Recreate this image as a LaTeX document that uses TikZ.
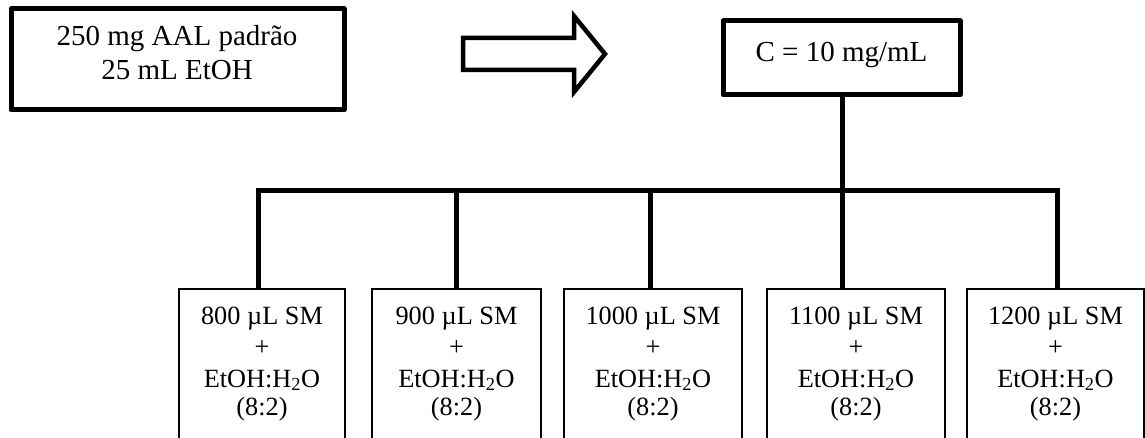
\documentclass[tikz,border=0pt]{standalone}
\usepackage{fontspec}
\setmainfont{Liberation Serif}
\tikzset{
  heavybox/.style={draw, line width=5pt, line join=round, inner sep=0pt},
  samplebox/.style={draw, line width=1.1pt, inner sep=0pt, minimum height=161pt},
  link/.style={line width=5pt, line join=miter},
  blockarrow/.style={draw, line width=4.5pt, line join=miter, fill=white},
  bigtext/.style={font=\fontsize{29}{33}\selectfont, inner sep=0pt, anchor=base},
  smalltext/.style={font=\fontsize{26.3}{30}\selectfont, inner sep=0pt, anchor=base},
}
\begin{document}
\begin{tikzpicture}[x=1pt, y=-1pt]
  \clip (0,0) rectangle (1145,438);
  \fill[white] (0,0) rectangle (1145,438);

  % stock solution
  \node[heavybox, minimum width=333pt, minimum height=101pt] (stock) at (177.5,59.5) {};
  \node[bigtext] (stock-a) at (177,46) {250 mg AAL padrão};
  \node[bigtext] (stock-b) at (177,80) {25 mL EtOH};

  % block arrow
  \draw[blockarrow] (463,38) -- (574,38) -- (574,16) -- (605,54) -- (574,92)
    -- (574,70) -- (463,70) -- cycle;

  % concentration box
  \node[heavybox, minimum width=237pt, minimum height=74pt] (conc) at (841.5,58) {};
  \node[bigtext] (conc-a) at (841.5,62) {C = 10 mg/mL};

  % dilution boxes
  \foreach \nm/\cx/\w/\amt in {s1/262/166/800, s2/456.5/169/900, s3/653/178/1000,
                                s4/856/178/1100, s5/1055.5/177/1200} {
    \node[samplebox, minimum width=\w pt] (\nm) at (\cx,369.5) {};
    \node[smalltext] (\nm-a) at (\cx,324) {\amt\ µL SM};
    \node[smalltext] (\nm-b) at (\cx,355) {+};
    \node[smalltext] (\nm-c) at (\cx,387) {EtOH:H\textsubscript{2}O};
    \node[smalltext] (\nm-d) at (\cx,415) {(8:2)};
  }

  % distribution lines
  \coordinate (bus) at (842,191);
  \draw[link] (conc.south -| bus) -- (s4.north -| bus);
  \draw[link] ([xshift=-4pt]s1.north) |- (bus) -| ([xshift=1.5pt]s5.north);
  \draw[link] ([xshift=-0.5pt]s2.north) -- ([xshift=-0.5pt]s2.north |- bus);
  \draw[link] ([xshift=-3pt]s3.north) -- ([xshift=-3pt]s3.north |- bus);
\end{tikzpicture}
\end{document}
